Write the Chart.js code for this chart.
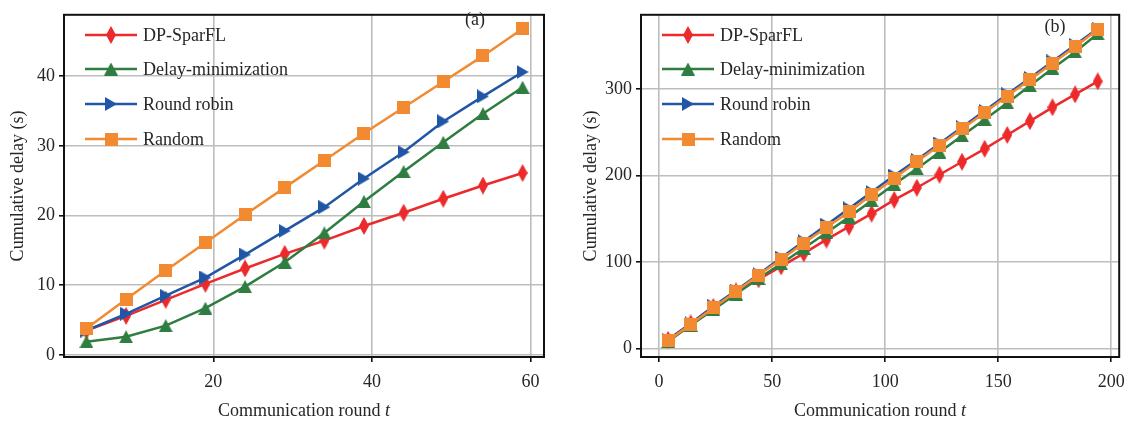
<!DOCTYPE html>
<html>
<head>
<meta charset="utf-8">
<script src="https://cdn.jsdelivr.net/npm/chart.js@4"></script>
<style>
    html, body { margin: 0; padding: 0; background: #fff; }
    #wrap { width: 1134px; height: 427px; position: relative; }
    .panel { position: absolute; top: 0; height: 427px; }
</style>
</head>
<body>
<div id="wrap">
    <div class="panel" style="left:0;width:567px"><canvas id="chartA" width="567" height="427"></canvas></div>
    <div class="panel" style="left:567px;width:567px"><canvas id="chartB" width="567" height="427"></canvas></div>
</div>
<script>
// Datos panel (a)
const roundsA = [4, 9, 14, 19, 24, 29, 34, 39, 44, 49, 54, 59];
const dpSparflA = [3.5, 5.6, 7.9, 10.2, 12.4, 14.5, 16.4, 18.5, 20.4, 22.4, 24.3, 26.1];
const delayMinA = [1.9, 2.6, 4.2, 6.7, 9.8, 13.3, 17.5, 22.0, 26.3, 30.5, 34.6, 38.4];
const roundRobinA = [3.5, 5.9, 8.5, 11.1, 14.4, 17.8, 21.2, 25.3, 29.1, 33.5, 37.1, 40.6];
const randomA = [3.8, 8.0, 12.1, 16.1, 20.1, 24.0, 27.9, 31.8, 35.5, 39.2, 42.9, 46.8];
const xTicksA = [20, 40, 60];
const yTicksA = [0, 10, 20, 30, 40];

// Datos panel (b)
const roundsB = [4, 14, 24, 34, 44, 54, 64, 74, 84, 94, 104, 114, 124, 134, 144, 154, 164, 174, 184, 194];
const dpSparflB = [10, 29, 48, 66, 80, 95, 110, 126, 141, 156, 172, 186, 201, 216, 231, 247, 263, 279, 294, 309];
const delayMinB = [8, 27, 45, 63, 81, 98, 116, 134, 152, 171, 190, 208, 227, 246, 265, 284, 304, 324, 343, 364];
const roundRobinB = [10, 29, 49, 67, 86, 105, 124, 143, 162, 181, 200, 218, 237, 256, 275, 294, 313, 332, 351, 370];
const randomB = [9, 28, 47, 66, 85, 103, 122, 140, 158, 178, 197, 216, 235, 254, 273, 292, 311, 330, 349, 369];
const xTicksB = [0, 50, 100, 150, 200];
const yTicksB = [0, 100, 200, 300];

const seriesNames = ['DP-SparFL', 'Delay-minimization', 'Round robin', 'Random'];
const colors = ['#ec2a2c', '#2f7d41', '#2156a7', '#f28a32'];

const FONT = '"Liberation Serif", "DejaVu Serif", serif';
const TEXT_COLOR = '#262626';

// Marcadores dibujados en canvas
function makeMarker(kind, color) {
    const c = document.createElement('canvas');
    let w = 13, h = 13;
    if (kind === 'diamond') { w = 10; h = 18; }
    if (kind === 'tri-up') { w = 14; h = 13; }
    if (kind === 'tri-right') { w = 12; h = 14; }
    c.width = w; c.height = h;
    const g = c.getContext('2d');
    g.fillStyle = color;
    g.beginPath();
    if (kind === 'diamond') {
        g.moveTo(w / 2, 0); g.lineTo(w, h / 2); g.lineTo(w / 2, h); g.lineTo(0, h / 2);
    } else if (kind === 'tri-up') {
        g.moveTo(w / 2, 0); g.lineTo(w, h); g.lineTo(0, h);
    } else if (kind === 'tri-right') {
        g.moveTo(0, 0); g.lineTo(w, h / 2); g.lineTo(0, h);
    } else {
        g.rect(0, 0, w, h);
    }
    g.closePath();
    g.fill();
    return c;
}

const markers = [
    makeMarker('diamond', colors[0]),
    makeMarker('tri-up', colors[1]),
    makeMarker('tri-right', colors[2]),
    makeMarker('square', colors[3])
];

function buildDatasets(xs, lists) {
    return lists.map((vals, i) => ({
        label: seriesNames[i],
        data: xs.map((x, k) => ({ x: x, y: vals[k] })),
        borderColor: colors[i],
        backgroundColor: colors[i],
        borderWidth: 2.5,
        pointStyle: markers[i],
        pointRadius: 7,
        pointHoverRadius: 7,
        tension: 0,
        order: 3 - i
    }));
}

// Marco, leyenda, títulos y etiqueta del panel
const decorPlugin = {
    id: 'decor',
    afterDraw(chart, args, opts) {
        const ctx = chart.ctx;
        const a = chart.chartArea;
        ctx.save();
        ctx.strokeStyle = '#111';
        ctx.lineWidth = 2;
        ctx.strokeRect(a.left, a.top, a.right - a.left, a.bottom - a.top);

        // leyenda
        ctx.font = '18px ' + FONT;
        ctx.textBaseline = 'middle';
        ctx.textAlign = 'left';
        opts.legendRows.forEach((y, i) => {
            ctx.strokeStyle = colors[i];
            ctx.lineWidth = 2.5;
            ctx.beginPath();
            ctx.moveTo(opts.legendX, y);
            ctx.lineTo(opts.legendX + 52, y);
            ctx.stroke();
            const m = markers[i];
            ctx.drawImage(m, opts.legendX + 26 - m.width / 2, y - m.height / 2);
            ctx.fillStyle = TEXT_COLOR;
            ctx.fillText(seriesNames[i], opts.legendX + 58, y + 1);
        });

        // etiqueta (a)/(b)
        ctx.textAlign = 'center';
        ctx.fillText(opts.tag, opts.tagX, opts.tagY);

        // título eje x con t en cursiva
        const main = 'Communication round ';
        ctx.font = '18px ' + FONT;
        const w1 = ctx.measureText(main).width;
        ctx.font = 'italic 18px ' + FONT;
        const w2 = ctx.measureText('t').width;
        const cx = (a.left + a.right) / 2;
        let x0 = cx - (w1 + w2) / 2;
        ctx.textAlign = 'left';
        ctx.font = '18px ' + FONT;
        ctx.fillText(main, x0, 411);
        ctx.font = 'italic 18px ' + FONT;
        ctx.fillText('t', x0 + w1, 411);

        // título eje y
        ctx.font = '18px ' + FONT;
        ctx.translate(opts.yTitleX, (a.top + a.bottom) / 2);
        ctx.rotate(-Math.PI / 2);
        ctx.textAlign = 'center';
        ctx.fillText('Cumulative delay (s)', 0, 0);
        ctx.restore();
    }
};

function makeChart(id, xs, lists, cfg) {
    const canvas = document.getElementById(id);
    return new Chart(canvas.getContext('2d'), {
        type: 'line',
        data: { datasets: buildDatasets(xs, lists) },
        plugins: [decorPlugin],
        options: {
            responsive: false,
            animation: false,
            devicePixelRatio: 1,
            layout: { padding: { top: 4, right: 567 - cfg.right, left: 0, bottom: 0 } },
            plugins: {
                legend: { display: false },
                tooltip: { enabled: false },
                decor: cfg.decor
            },
            scales: {
                x: {
                    type: 'linear',
                    min: cfg.xMin,
                    max: cfg.xMax,
                    afterBuildTicks: axis => { axis.ticks = cfg.xTicks.map(v => ({ value: v })); },
                    afterFit: axis => { axis.height = 427 - 357; },
                    border: { display: false },
                    grid: { color: '#bdbdbd', lineWidth: 1.6, tickLength: 5, tickColor: '#111', tickWidth: 1.6 },
                    ticks: { font: { family: FONT, size: 18 }, color: TEXT_COLOR, padding: 9, maxRotation: 0 }
                },
                y: {
                    type: 'linear',
                    min: cfg.yMin,
                    max: cfg.yMax,
                    afterBuildTicks: axis => { axis.ticks = cfg.yTicks.map(v => ({ value: v })); },
                    afterFit: axis => { axis.width = cfg.left; },
                    border: { display: false },
                    grid: { color: '#bdbdbd', lineWidth: 1.6, tickLength: 5, tickColor: '#111', tickWidth: 1.6 },
                    ticks: { font: { family: FONT, size: 18 }, color: TEXT_COLOR, padding: 4 }
                }
            }
        }
    });
}

document.addEventListener('DOMContentLoaded', function() {
    makeChart('chartA', roundsA, [dpSparflA, delayMinA, roundRobinA, randomA], {
        xMin: 1.17, xMax: 61.7, yMin: -0.3, yMax: 48.8,
        xTicks: xTicksA, yTicks: yTicksA,
        left: 64, right: 544,
        decor: { legendX: 85, legendRows: [35, 69, 104, 139], tag: '(a)', tagX: 475, tagY: 20, yTitleX: 18 }
    });
    makeChart('chartB', roundsB, [dpSparflB, delayMinB, roundRobinB, randomB], {
        xMin: -8, xMax: 203.5, yMin: -9.8, yMax: 386,
        xTicks: xTicksB, yTicks: yTicksB,
        left: 74, right: 554,
        decor: { legendX: 95, legendRows: [35, 69, 104, 139], tag: '(b)', tagX: 488, tagY: 27, yTitleX: 24 }
    });
});
</script>
</body>
</html>
